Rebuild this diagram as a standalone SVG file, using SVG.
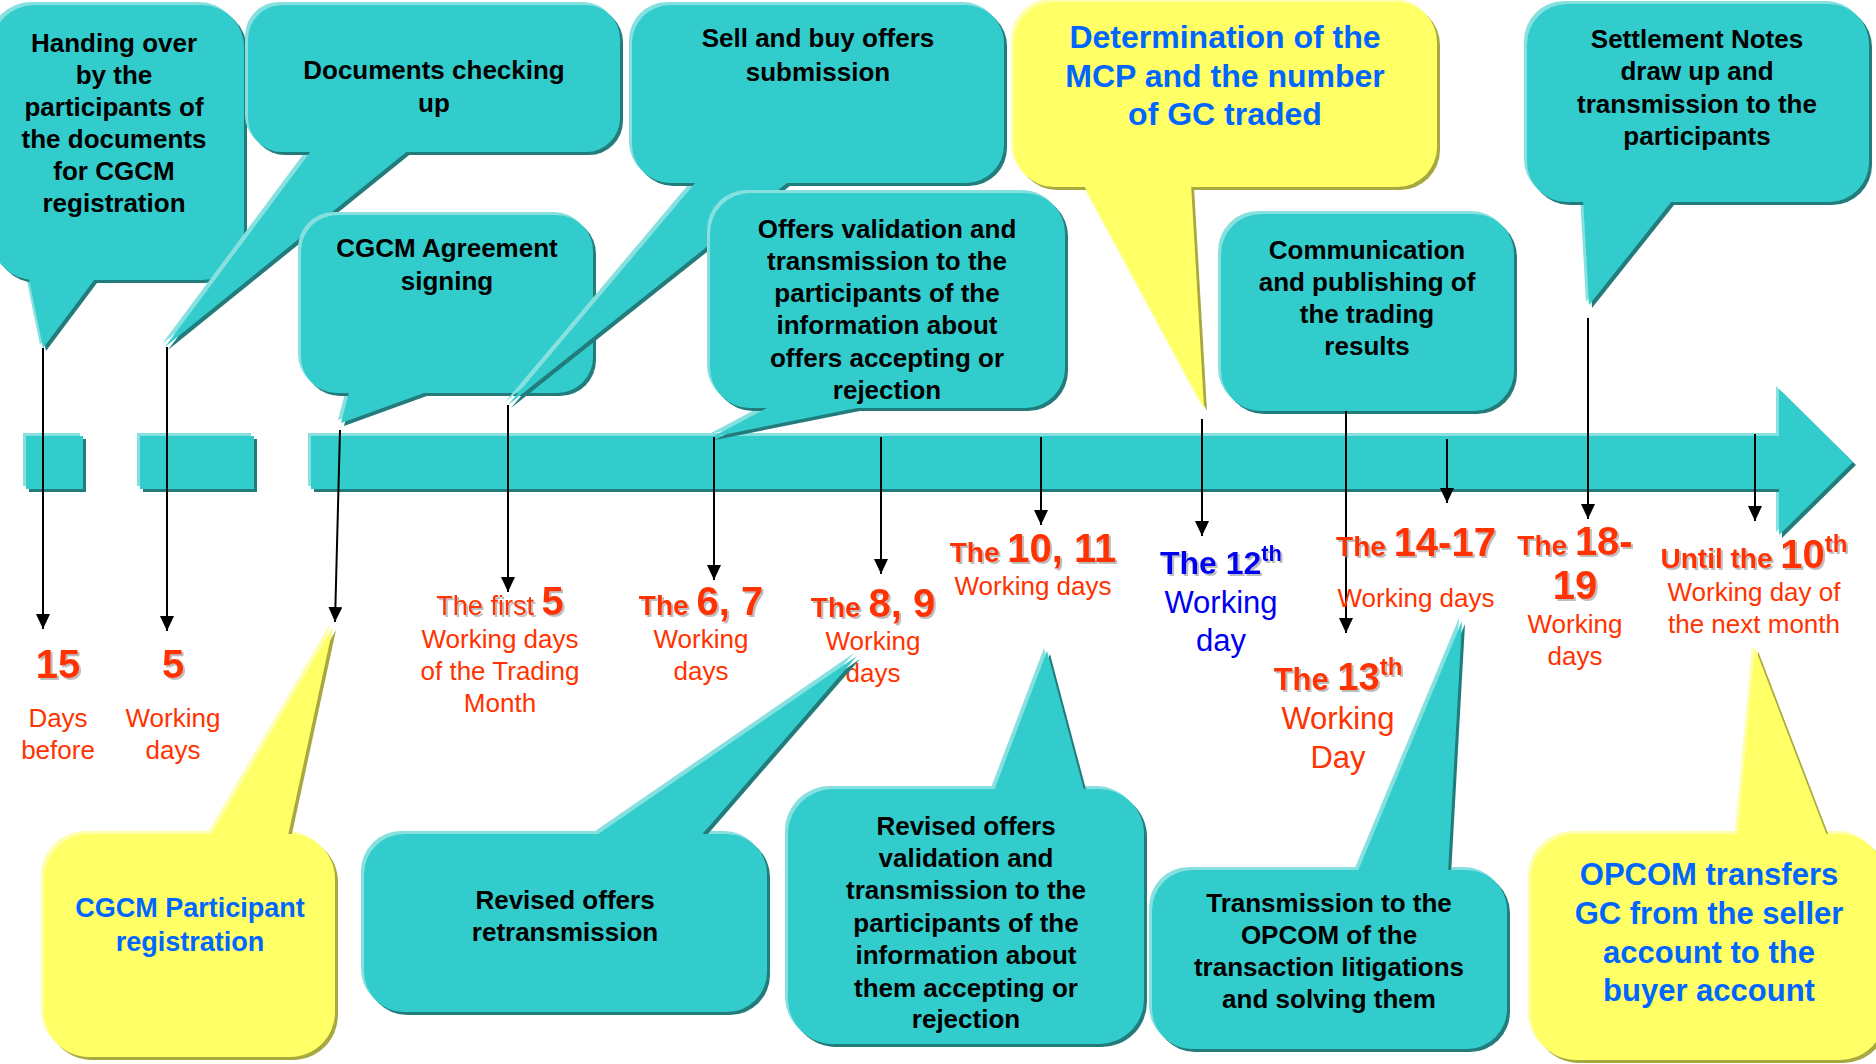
<svg xmlns="http://www.w3.org/2000/svg" width="1876" height="1064" viewBox="0 0 1876 1064">
<defs>
<style>
.tb{fill:#33CCCC;filter:url(#bevT)}
.yb{fill:#FFFF66;filter:url(#bevY)}
.bt{font-family:"Liberation Sans",Arial,sans-serif;font-weight:bold;font-size:26px;fill:#000;text-anchor:middle}
.bl{font-family:"Liberation Sans",Arial,sans-serif;font-weight:bold;font-size:31px;fill:#0066FF;text-anchor:middle}
.rr{font-family:"Liberation Sans",Arial,sans-serif;font-size:26px;fill:#FF3300;text-anchor:middle}
.rh{font-family:"Liberation Sans",Arial,sans-serif;font-weight:bold;font-size:28px;fill:#FF3300;text-anchor:middle;filter:url(#tsh)}
.br{font-family:"Liberation Sans",Arial,sans-serif;font-size:31px;fill:#0000F0;text-anchor:middle}
.bh{font-family:"Liberation Sans",Arial,sans-serif;font-weight:bold;font-size:32px;fill:#0000F0;text-anchor:middle;filter:url(#tsh)}
.big{font-size:40px}
.conn line{stroke:#000;stroke-width:2;marker-end:url(#ah)}
</style>
<filter id="bevT" x="-0.1" y="-0.1" width="1.2" height="1.2">
<feOffset in="SourceAlpha" dx="-3" dy="-3" result="a1"/>
<feFlood flood-color="#86E0E0" result="c1"/>
<feComposite in="c1" in2="a1" operator="in" result="lt"/>
<feOffset in="SourceAlpha" dx="3" dy="3" result="a2"/>
<feFlood flood-color="#217B7B" result="c2"/>
<feComposite in="c2" in2="a2" operator="in" result="dk"/>
<feMerge><feMergeNode in="lt"/><feMergeNode in="dk"/><feMergeNode in="SourceGraphic"/></feMerge>
</filter>
<filter id="bevY" x="-0.1" y="-0.1" width="1.2" height="1.2">
<feOffset in="SourceAlpha" dx="-3" dy="-3" result="a1"/>
<feFlood flood-color="#FFFFAA" result="c1"/>
<feComposite in="c1" in2="a1" operator="in" result="lt"/>
<feOffset in="SourceAlpha" dx="3" dy="3" result="a2"/>
<feFlood flood-color="#A8A840" result="c2"/>
<feComposite in="c2" in2="a2" operator="in" result="dk"/>
<feMerge><feMergeNode in="lt"/><feMergeNode in="dk"/><feMergeNode in="SourceGraphic"/></feMerge>
</filter>
<filter id="tsh" x="-0.1" y="-0.2" width="1.2" height="1.4">
<feDropShadow dx="2" dy="2" stdDeviation="0.6" flood-color="#888" flood-opacity="0.55"/>
</filter>
<marker id="ah" markerUnits="userSpaceOnUse" markerWidth="15" markerHeight="14" refX="15" refY="7" orient="auto" viewBox="0 0 15 14">
<path d="M0,0 L15,7 L0,14 Z" fill="#000"/>
</marker>
</defs>
<rect width="1876" height="1064" fill="#fff"/>

<g id="timeline" class="tb">
<rect x="26" y="436" width="57" height="53"/>
<rect x="140" y="436" width="114" height="53"/>
<path d="M311 436 H1779 V389 L1853 462 L1779 535 V489 H311 Z"/>
</g>

<g id="n-handing">
<g class="tb"><rect x="-8" y="5" width="252" height="275" rx="42"/><polygon points="25,260 43,348 109,260"/></g>
<text class="bt" x="114"><tspan x="114" y="52">Handing over</tspan><tspan x="114" y="84">by the</tspan><tspan x="114" y="116">participants of</tspan><tspan x="114" y="148">the documents</tspan><tspan x="114" y="180">for CGCM</tspan><tspan x="114" y="212">registration</tspan></text>
</g>

<g id="n-documents">
<g class="tb"><rect x="248" y="5" width="372" height="147" rx="34"/><polygon points="325,132 165,347 431,132"/></g>
<text class="bt"><tspan x="434" y="79">Documents checking</tspan><tspan x="434" y="112">up</tspan></text>
</g>

<g id="n-agreement">
<g class="tb"><rect x="301" y="215" width="292" height="178" rx="36"/><polygon points="354,373 341,423 479,373"/></g>
<text class="bt"><tspan x="447" y="257">CGCM Agreement</tspan><tspan x="447" y="290">signing</tspan></text>
</g>

<g id="n-sellbuy">
<g class="tb"><rect x="632" y="5" width="372" height="178" rx="38"/><polygon points="712,163 508,405 812,163"/></g>
<text class="bt"><tspan x="818" y="47">Sell and buy offers</tspan><tspan x="818" y="81">submission</tspan></text>
</g>

<g id="n-validation">
<g class="tb"><rect x="710" y="193" width="355" height="215" rx="40"/><polygon points="805,388 712,437 957,388"/></g>
<text class="bt"><tspan x="887" y="238">Offers validation and</tspan><tspan x="887" y="270">transmission to the</tspan><tspan x="887" y="302">participants of the</tspan><tspan x="887" y="334">information about</tspan><tspan x="887" y="367">offers accepting or</tspan><tspan x="887" y="399">rejection</tspan></text>
</g>

<g id="n-mcp">
<g class="yb"><rect x="1014" y="2" width="423" height="185" rx="40"/><polygon points="1074,167 1204,408 1190,167"/></g>
<text class="bl" style="font-size:32px"><tspan x="1225" y="48">Determination of the</tspan><tspan x="1225" y="87">MCP and the number</tspan><tspan x="1225" y="125">of GC traded</tspan></text>
</g>

<g id="n-communication">
<g class="tb"><rect x="1221" y="214" width="293" height="197" rx="40"/></g>
<text class="bt"><tspan x="1367" y="259">Communication</tspan><tspan x="1367" y="291">and publishing of</tspan><tspan x="1367" y="323">the trading</tspan><tspan x="1367" y="355">results</tspan></text>
</g>

<g id="n-settlement">
<g class="tb"><rect x="1527" y="4" width="342" height="198" rx="40"/><polygon points="1582,182 1589,305 1687,182"/></g>
<text class="bt"><tspan x="1697" y="48">Settlement Notes</tspan><tspan x="1697" y="80">draw up and</tspan><tspan x="1697" y="113">transmission to the</tspan><tspan x="1697" y="145">participants</tspan></text>
</g>

<g class="conn" id="connectors">
<line x1="43" y1="348" x2="43" y2="629"/>
<line x1="167" y1="347" x2="167" y2="631"/>
<line x1="340" y1="430" x2="335" y2="622"/>
<line x1="508" y1="405" x2="508" y2="592"/>
<line x1="714" y1="437" x2="714" y2="580"/>
<line x1="881" y1="437" x2="881" y2="574"/>
<line x1="1041" y1="437" x2="1041" y2="525"/>
<line x1="1202" y1="419" x2="1202" y2="536"/>
<line x1="1346" y1="411" x2="1346" y2="633"/>
<line x1="1447" y1="439" x2="1447" y2="503"/>
<line x1="1588" y1="318" x2="1588" y2="519"/>
<line x1="1755" y1="434" x2="1755" y2="521"/>
</g>

<g id="l-15">
<text class="rh big" x="58" y="678">15</text>
<text class="rr"><tspan x="58" y="727">Days</tspan><tspan x="58" y="759">before</tspan></text>
</g>
<g id="l-5">
<text class="rh big" x="173" y="678">5</text>
<text class="rr"><tspan x="173" y="727">Working</tspan><tspan x="173" y="759">days</tspan></text>
</g>
<g id="l-first5">
<text class="rh" x="500" y="615"><tspan style="font-weight:normal;font-size:27px">The first </tspan><tspan class="big">5</tspan></text>
<text class="rr"><tspan x="500" y="648">Working days</tspan><tspan x="500" y="680">of the Trading</tspan><tspan x="500" y="712">Month</tspan></text>
</g>
<g id="l-67">
<text class="rh" x="701" y="615">The <tspan class="big">6, 7</tspan></text>
<text class="rr"><tspan x="701" y="648">Working</tspan><tspan x="701" y="680">days</tspan></text>
</g>
<g id="l-89">
<text class="rh" x="873" y="617">The <tspan class="big">8, 9</tspan></text>
<text class="rr"><tspan x="873" y="650">Working</tspan><tspan x="873" y="682">days</tspan></text>
</g>
<g id="l-1011">
<text class="rh" x="1033" y="562">The <tspan class="big">10, 11</tspan></text>
<text class="rr"><tspan x="1033" y="595">Working days</tspan></text>
</g>
<g id="l-12">
<text class="bh" x="1221" y="574">The 12<tspan style="font-size:22px" dy="-13">th</tspan></text>
<text class="br"><tspan x="1221" y="613">Working</tspan><tspan x="1221" y="651">day</tspan></text>
</g>
<g id="l-13">
<text class="rh" x="1338" y="690" style="font-size:31px">The <tspan style="font-size:38px">13</tspan><tspan style="font-size:24px" dy="-15">th</tspan></text>
<text class="rr" style="font-size:31px"><tspan x="1338" y="729">Working</tspan><tspan x="1338" y="768">Day</tspan></text>
</g>
<g id="l-1417">
<text class="rh" x="1416" y="556">The <tspan class="big">14-17</tspan></text>
<text class="rr"><tspan x="1416" y="607">Working days</tspan></text>
</g>
<g id="l-1819">
<text class="rh" x="1575" y="555">The <tspan class="big">18-</tspan></text>
<text class="rh big" x="1575" y="599">19</text>
<text class="rr"><tspan x="1575" y="633">Working</tspan><tspan x="1575" y="665">days</tspan></text>
</g>
<g id="l-until">
<text class="rh" x="1754" y="568">Until the <tspan class="big">10</tspan><tspan style="font-size:24px" dy="-16">th</tspan></text>
<text class="rr"><tspan x="1754" y="601">Working day of</tspan><tspan x="1754" y="633">the next month</tspan></text>
</g>

<g id="n-registration">
<g class="yb"><rect x="44" y="834" width="291" height="223" rx="45"/><polygon points="200,854 333,627 284,854"/></g>
<text class="bl" style="font-size:27px"><tspan x="190" y="917">CGCM Participant</tspan><tspan x="190" y="951">registration</tspan></text>
</g>

<g id="n-retransmission">
<g class="tb"><rect x="364" y="834" width="403" height="178" rx="40"/><polygon points="569,854 857,656 685,854"/></g>
<text class="bt"><tspan x="565" y="909">Revised offers</tspan><tspan x="565" y="941">retransmission</tspan></text>
</g>

<g id="n-revisedvalidation">
<g class="tb"><rect x="788" y="789" width="356" height="255" rx="45"/><polygon points="987,809 1047,651 1089,809"/></g>
<text class="bt"><tspan x="966" y="835">Revised offers</tspan><tspan x="966" y="867">validation and</tspan><tspan x="966" y="899">transmission to the</tspan><tspan x="966" y="932">participants of the</tspan><tspan x="966" y="964">information about</tspan><tspan x="966" y="997">them accepting or</tspan><tspan x="966" y="1028">rejection</tspan></text>
</g>

<g id="n-litigations">
<g class="tb"><rect x="1152" y="870" width="355" height="179" rx="40"/><polygon points="1350,890 1462,621 1447,890"/></g>
<text class="bt"><tspan x="1329" y="912">Transmission to the</tspan><tspan x="1329" y="944">OPCOM of the</tspan><tspan x="1329" y="976">transaction litigations</tspan><tspan x="1329" y="1008">and solving them</tspan></text>
</g>

<g id="n-opcom">
<g class="yb"><rect x="1531" y="834" width="354" height="226" rx="45"/><polygon points="1736,854 1755,648 1834,854"/></g>
<text class="bl"><tspan x="1709" y="885">OPCOM transfers</tspan><tspan x="1709" y="924">GC from the seller</tspan><tspan x="1709" y="963">account to the</tspan><tspan x="1709" y="1001">buyer account</tspan></text>
</g>
</svg>
